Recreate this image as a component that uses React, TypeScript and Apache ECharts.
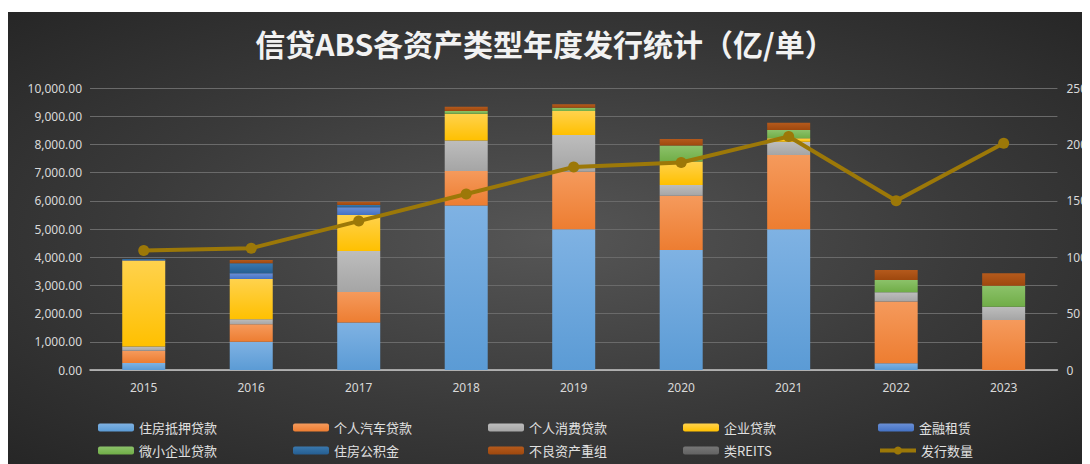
import React, { useEffect, useRef } from "react";
import * as echarts from "echarts";

const years = ["2015", "2016", "2017", "2018", "2019", "2020", "2021", "2022", "2023"];

const housingMortgage = [250, 1000, 1680, 5830, 4990, 4255, 4990, 240, 0];
const autoLoan = [430, 620, 1090, 1230, 2040, 1925, 2635, 2185, 1773];
const consumerLoan = [150, 180, 1450, 1075, 1300, 380, 470, 333, 473];
const corporateLoan = [3050, 1427, 1280, 950, 850, 830, 120, 0, 0];
const financialLeasing = [20, 200, 270, 0, 0, 0, 0, 0, 0];
const smallBizLoan = [0, 0, 0, 100, 120, 567, 295, 437, 745];
const providentFund = [40, 355, 80, 0, 0, 0, 0, 0, 0];
const npl = [0, 118, 120, 150, 120, 237, 260, 355, 440];
const reits = [0, 0, 0, 0, 0, 0, 0, 0, 0];
const issueCount = [106, 108, 132, 156, 180, 184, 207, 150, 201];

const leftTicks = { min: 0, max: 10000, interval: 1000 };
const rightTicks = { min: 0, max: 250, interval: 50 };

const barSeriesDefs: [string, number[], string, string][] = [
  ["住房抵押贷款", housingMortgage, "#7FB2E3", "#5B9BD5"],
  ["个人汽车贷款", autoLoan, "#F59A5C", "#ED7D31"],
  ["个人消费贷款", consumerLoan, "#BDBDBD", "#A5A5A5"],
  ["企业贷款", corporateLoan, "#FFD24D", "#FFC000"],
  ["金融租赁", financialLeasing, "#6A8FD6", "#4472C4"],
  ["微小企业贷款", smallBizLoan, "#8CC26A", "#70AD47"],
  ["住房公积金", providentFund, "#3A78AE", "#255E91"],
  ["不良资产重组", npl, "#B55A1C", "#9E480E"],
  ["类REITS", reits, "#767676", "#636363"],
];
const lineName = "发行数量";
const lineColor = "#9C7808";

const CJK = '"Noto Sans CJK SC", "Noto Sans", sans-serif';
const LAT = '"Noto Sans", "Open Sans", sans-serif';

export default function App() {
  const ref = useRef<HTMLDivElement>(null);
  useEffect(() => {
    if (!ref.current) return;
    const chart = echarts.init(ref.current, undefined, { renderer: "svg" });

    const legendNames = [...barSeriesDefs.map((d) => d[0]), lineName];
    const legendCols = [90, 285, 480, 675, 870];
    const legendRows = [409, 432];
    const legends = legendNames.map((name, i) => ({
      data: [name],
      left: legendCols[i % 5],
      top: legendRows[Math.floor(i / 5)],
      padding: 0,
      itemWidth: 36,
      itemHeight: name === lineName ? 10 : 8,
      itemGap: 0,
      lineStyle: name === lineName ? { width: 4 } : undefined,
      textStyle: { color: "#E0E0E0", fontSize: 13, fontFamily: CJK },
    }));

    const series: any[] = barSeriesDefs.map(([name, data, top, base]) => ({
      name,
      type: "bar",
      stack: "total",
      data,
      barWidth: 43,
      itemStyle: {
        color: new echarts.graphic.LinearGradient(0, 0, 0, 1, [
          { offset: 0, color: top },
          { offset: 1, color: base },
        ]),
      },
    }));
    series.push({
      name: lineName,
      type: "line",
      yAxisIndex: 1,
      data: issueCount,
      symbol: "circle",
      symbolSize: 11,
      lineStyle: { color: lineColor, width: 4 },
      itemStyle: { color: lineColor },
      z: 5,
    });

    chart.setOption({
      animation: false,
      title: {
        text: "信贷ABS各资产类型年度发行统计（亿/单）",
        left: 537,
        textAlign: "center",
        top: 16,
        padding: 0,
        textStyle: { color: "#F2F2F2", fontSize: 30, fontWeight: "bold", fontFamily: CJK },
      },
      legend: legends,
      grid: { left: 82, right: 32, top: 76, bottom: 94 },
      xAxis: {
        type: "category",
        data: years,
        axisLine: { lineStyle: { color: "#C8C8C8", width: 1.5 } },
        axisTick: { show: false },
        axisLabel: { color: "#D9D9D9", fontSize: 12, fontFamily: LAT, margin: 11 },
      },
      yAxis: [
        {
          type: "value",
          ...leftTicks,
          axisLine: { show: false },
          axisTick: { show: false },
          splitLine: { lineStyle: { color: "#6A6A6A", width: 1 } },
          axisLabel: {
            color: "#D9D9D9",
            fontSize: 12,
            fontFamily: LAT,
            margin: 8,
            formatter: (v: number) =>
              v.toLocaleString("en-US", { minimumFractionDigits: 2, maximumFractionDigits: 2 }),
          },
        },
        {
          type: "value",
          ...rightTicks,
          axisLine: { show: false },
          axisTick: { show: false },
          splitLine: { show: false },
          axisLabel: { color: "#D9D9D9", fontSize: 12, fontFamily: LAT, margin: 9 },
        },
      ],
      series,
    });
    return () => chart.dispose();
  }, []);

  return (
    <div style={{ paddingTop: 4 }}>
      <div
        ref={ref}
        style={{
          width: 1082,
          height: 452,
          background:
            "radial-gradient(ellipse farthest-corner at 50% 50%, #565656 0%, #3a3a3a 55%, #262626 100%)",
        }}
      />
    </div>
  );
}
